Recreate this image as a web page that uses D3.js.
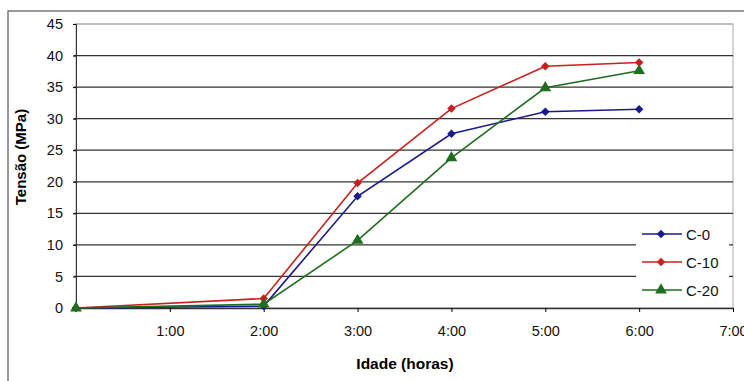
<!DOCTYPE html>
<html><head><meta charset="utf-8">
<script src="https://cdn.jsdelivr.net/npm/d3@7"></script>
<style>body{margin:0;background:#fff}svg{display:block}text{font-family:"Liberation Sans",Arial,sans-serif}</style>
</head><body><svg id="c" width="744" height="381"></svg>
<script>
const hours = [0, 2, 3, 4, 5, 6];
const seriesNames = ["C-0", "C-10", "C-20"];
const c0 = [0, 0.3, 17.7, 27.6, 31.1, 31.5];
const c10 = [0, 1.5, 19.8, 31.6, 38.3, 38.9];
const c20 = [0, 0.6, 10.7, 23.8, 34.9, 37.6];
const xTicks = [1, 2, 3, 4, 5, 6, 7];
const xTickLabels = ["1:00", "2:00", "3:00", "4:00", "5:00", "6:00", "7:00"];
const yTicks = [0, 5, 10, 15, 20, 25, 30, 35, 40, 45];
const colors = ["#1a1a8c", "#c8201e", "#1e6e1e"];

const squareDiamond = { draw(ctx, size) { const r = Math.sqrt(size) / 2 * 1.15;
  ctx.moveTo(0, -r); ctx.lineTo(r, 0); ctx.lineTo(0, r); ctx.lineTo(-r, 0); ctx.closePath(); } };
const shapes = [squareDiamond, squareDiamond, d3.symbolTriangle];

const svg = d3.select("#c");
const L = 76, R = 733, T = 24, B = 308;
const x = d3.scaleLinear().domain([0, 7]).range([L, R]);
const y = d3.scaleLinear().domain([0, 45]).range([B, T]);

svg.append("rect").attr("x", 8).attr("y", 11).attr("width", 760).attr("height", 400)
  .attr("fill", "none").attr("stroke", "#555").attr("stroke-width", 1.2);

svg.append("rect").attr("x", L).attr("y", T).attr("width", R - L).attr("height", B - T)
  .attr("fill", "none").attr("stroke", "#aaa").attr("stroke-width", 1);

svg.append("g").selectAll("line").data(yTicks.filter(d => d > 0)).join("line")
  .attr("x1", L - 2).attr("x2", R).attr("y1", d => y(d)).attr("y2", d => y(d))
  .attr("stroke", d => d === 45 ? "#aaa" : "#333").attr("stroke-width", 1.2);

const ya = d3.axisLeft(y).tickValues(yTicks).tickSize(3).tickPadding(10);
svg.append("g").attr("transform", `translate(${L},0)`).call(ya)
  .call(g => g.select(".domain").attr("stroke", "#333"))
  .call(g => g.selectAll("text").attr("font-size", 14.5).attr("font-family", "Liberation Sans, Arial").attr("fill", "#111"));

const xa = d3.axisBottom(x).tickValues(xTicks).tickFormat((d, i) => xTickLabels[i]).tickSize(4).tickPadding(14).tickSizeOuter(0);
svg.append("g").attr("transform", `translate(0,${B})`).call(xa)
  .call(g => g.select(".domain").attr("stroke", "#333").attr("stroke-width", 1.3))
  .call(g => g.selectAll("text").attr("font-size", 14.5).attr("font-family", "Liberation Sans, Arial").attr("fill", "#111"));

svg.append("text").attr("x", 405).attr("y", 369).attr("text-anchor", "middle")
  .attr("font-size", 15.5).attr("font-weight", "bold").text("Idade (horas)");
svg.append("text").attr("transform", "translate(26,157) rotate(-90)").attr("text-anchor", "middle")
  .attr("font-size", 15).attr("font-weight", "bold").text("Tensão (MPa)");

const data = [c0, c10, c20];
const line = d3.line().x((d, i) => x(hours[i])).y(d => y(d));
data.forEach((vals, k) => {
  svg.append("path").datum(vals).attr("d", line).attr("fill", "none")
    .attr("stroke", colors[k]).attr("stroke-width", 1.6);
});
data.forEach((vals, k) => {
  svg.append("g").selectAll("path").data(vals).join("path")
    .attr("transform", (d, i) => `translate(${x(hours[i])},${y(d)})`)
    .attr("d", d3.symbol().type(shapes[k]).size(k === 2 ? 60 : 55))
    .attr("fill", colors[k]);
});

const lg = svg.append("g");
lg.append("rect").attr("x", 636).attr("y", 220).attr("width", 93).attr("height", 84).attr("fill", "#fff");
seriesNames.forEach((n, k) => {
  const ly = 234 + k * 28;
  lg.append("line").attr("x1", 642).attr("x2", 682).attr("y1", ly).attr("y2", ly)
    .attr("stroke", colors[k]).attr("stroke-width", 1.6);
  lg.append("path").attr("transform", `translate(661,${ly})`)
    .attr("d", d3.symbol().type(shapes[k]).size(k === 2 ? 60 : 55)).attr("fill", colors[k]);
  lg.append("text").attr("x", 686).attr("y", ly + 5.5).attr("font-size", 15).attr("fill", "#111").text(n);
});
</script></body></html>
